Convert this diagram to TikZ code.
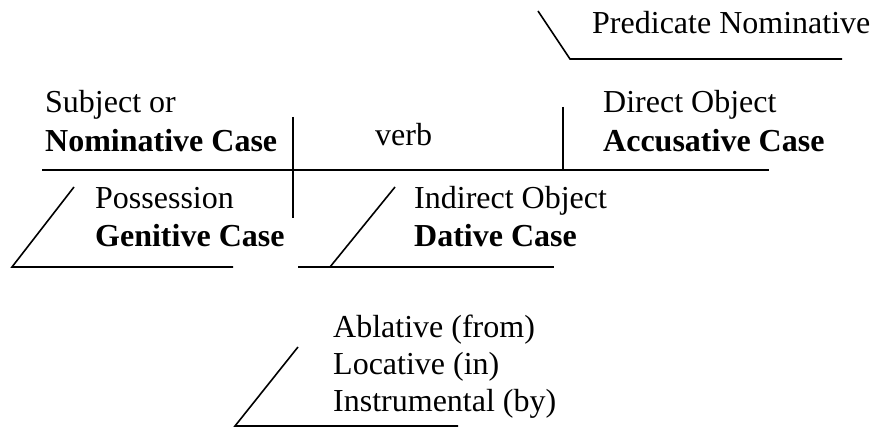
\documentclass[tikz,border=0pt]{standalone}
\usepackage{fontspec}
\setmainfont{Liberation Serif}
\begin{document}
\begin{tikzpicture}[x=1pt,y=-1pt,
  lbl/.style={anchor=base west,inner sep=0pt,font=\fontsize{32}{38}\selectfont},
  blbl/.style={lbl,font=\fontsize{32}{38}\selectfont\bfseries},
  rule/.style={line width=1.6pt}]
\useasboundingbox (0,0) rectangle (870,427);
% coordinates of the diagram lines
\coordinate (mainL) at (42,170);
\coordinate (mainR) at (769,170);
\coordinate (divT) at (293,117);
\coordinate (divB) at (293,218);
\coordinate (objT) at (563,107);
\coordinate (objB) at (563,170);
\coordinate (pnA) at (538,11);
\coordinate (pnB) at (570,59);
\coordinate (pnC) at (842,59);
\coordinate (genA) at (74,187);
\coordinate (genB) at (12,267);
\coordinate (genC) at (233,267);
\coordinate (datA) at (395,187);
\coordinate (datB) at (330,267);
\coordinate (datL) at (298,267);
\coordinate (datR) at (554,267);
\coordinate (ablA) at (298,347);
\coordinate (ablB) at (235,426);
\coordinate (ablC) at (458,426);
% lines
\draw[rule] (mainL) -- (mainR);
\draw[rule] (divT) -- (divB);
\draw[rule] (objT) -- (objB);
\draw[rule] (pnA) -- (pnB) -- (pnC);
\draw[rule] (genA) -- (genB) -- (genC);
\draw[rule] (datA) -- (datB);
\draw[rule] (datL) -- (datR);
\draw[rule] (ablA) -- (ablB) -- (ablC);
% texts
\node[lbl] (pn) at (592,34) {Predicate Nominative};
\node[lbl] (subj) at (45,113) {Subject or};
\node[blbl] (nom) at (45,152) {Nominative Case};
\node[lbl] (verb) at (375,146) {verb};
\node[lbl] (dobj) at (603,113) {Direct Object};
\node[blbl] (acc) at (603,152) {Accusative Case};
\node[lbl] (poss) at (95,209) {Possession};
\node[blbl] (gen) at (95,247) {Genitive Case};
\node[lbl] (iobj) at (414,209) {Indirect Object};
\node[blbl] (dat) at (414,247) {Dative Case};
\node[lbl] (abl) at (333,338) {Ablative (from)};
\node[lbl] (loc) at (333,374) {Locative (in)};
\node[lbl] (ins) at (333,411) {Instrumental (by)};
\end{tikzpicture}
\end{document}
